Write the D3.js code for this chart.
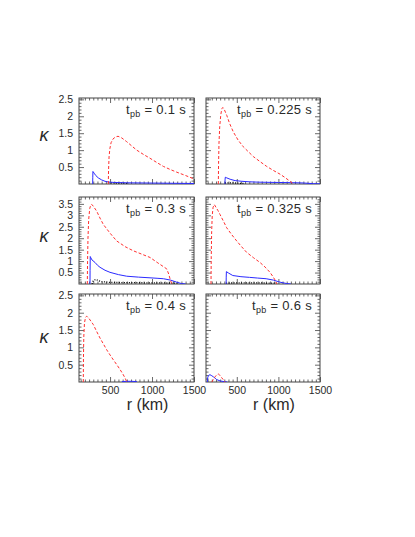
<!DOCTYPE html>
<html><head><meta charset="utf-8">
<script src="https://cdn.jsdelivr.net/npm/d3@7"></script>
<style>
body{margin:0;background:#fff}
svg{display:block}
text{font-family:"Liberation Sans",Arial,Helvetica,sans-serif;fill:#2a2a2a}
</style>
</head><body><div id="chart"></div>
<script>
// ---------- DATA (r in km, kappa) ----------
const timeLabels = ["0.1", "0.225", "0.3", "0.325", "0.4", "0.6"];
const xTicks = [500, 1000, 1500];
const yTicksShort = [0.5, 1, 1.5, 2, 2.5];
const yTicksTall = [0.5, 1, 1.5, 2, 2.5, 3, 3.5];

const red_t010 = [[479,0],[482,0.4],[488,0.8],[498,1.05],[512,1.22],[535,1.33],[565,1.39],[595,1.41],[640,1.36],[698,1.25],[760,1.12],[818,1.0],[900,0.87],[976,0.76],[1060,0.63],[1135,0.52],[1215,0.43],[1294,0.35],[1400,0.25],[1500,0.15]];
const blue_t010 = [[293,0],[294,0.2],[296,0.37],[310,0.32],[330,0.25],[360,0.18],[400,0.12],[440,0.08],[479,0.06],[550,0.045],[700,0.035],[900,0.03],[1100,0.025],[1300,0.02],[1500,0.015]];
const black_t010 = [[480,0.035],[560,0.03],[650,0.025],[720,0.015]];

const red_t0225 = [[278,0],[281,0.6],[286,1.2],[295,1.7],[308,2.05],[320,2.22],[332,2.26],[350,2.2],[379,2.03],[415,1.78],[458,1.54],[515,1.3],[578,1.1],[640,0.95],[699,0.81],[780,0.66],[859,0.52],[940,0.4],[1020,0.29],[1080,0.19],[1140,0.08],[1180,0]];
const blue_t0225 = [[358,0],[359,0.12],[362,0.2],[380,0.18],[420,0.14],[480,0.1],[560,0.08],[650,0.065],[750,0.055],[850,0.05],[1000,0.045],[1150,0.04],[1300,0.03],[1420,0.01],[1500,0.005]];
const black_t0225 = [[358,0.03],[420,0.035],[480,0.03],[540,0.02],[600,0.015]];

const red_t030 = [[229,0],[232,1.0],[237,2.0],[245,2.8],[258,3.3],[270,3.45],[281,3.48],[300,3.4],[341,3.18],[380,2.88],[420,2.6],[500,2.22],[579,1.88],[680,1.63],[777,1.45],[880,1.3],[976,1.16],[1070,0.92],[1175,0.66],[1200,0.42],[1215,0.22],[1235,0]];
const blue_t030 = [[261,0],[262,0.6],[264,1.2],[270,1.15],[285,1.05],[321,0.94],[350,0.82],[380,0.73],[440,0.6],[499,0.51],[600,0.41],[698,0.34],[840,0.3],[976,0.27],[1060,0.25],[1135,0.23],[1220,0.17],[1294,0.08],[1350,0.02],[1400,0]];
const black_t030 = [[285,0],[300,0.15],[330,0.2],[360,0.15],[400,0.1],[500,0.07],[700,0.06],[1000,0.05],[1300,0.04]];

const red_t0325 = [[190,0],[193,1.2],[198,2.3],[205,3.0],[215,3.35],[230,3.47],[250,3.35],[275,3.2],[298,3.04],[340,2.74],[378,2.46],[440,2.15],[499,1.88],[560,1.62],[619,1.38],[700,1.15],[779,0.94],[840,0.74],[899,0.51],[935,0.32],[959,0.18],[980,0]];
const blue_t0325 = [[372,0],[373,0.3],[375,0.54],[400,0.48],[452,0.37],[550,0.32],[653,0.29],[750,0.26],[853,0.23],[940,0.17],[1019,0.08],[1100,0.02],[1150,0]];
const black_t0325 = [[372,0.04],[500,0.05],[700,0.05],[900,0.04],[1000,0.03]];

const red_t040 = [[181,0],[183,0.7],[187,1.3],[195,1.7],[208,1.87],[222,1.9],[250,1.83],[300,1.66],[340,1.46],[380,1.27],[420,1.1],[460,0.93],[500,0.78],[539,0.64],[580,0.5],[619,0.36],[650,0.24],[678,0.12],[700,0]];
const blue_t040 = [[640,0.01],[700,0.02],[760,0.02],[820,0.01]];
const black_t040 = [];

const red_t060 = [[200,0],[220,0.08],[245,0.17],[265,0.22],[278,0.23],[295,0.2],[320,0.12],[340,0.06],[358,0]];
const blue_t060 = [[146,0],[150,0.12],[160,0.19],[178,0.21],[200,0.18],[218,0.15],[240,0.11],[258,0.07],[300,0.03],[350,0.01],[386,0]];
const black_t060 = [];

const redSeries = [red_t010, red_t0225, red_t030, red_t0325, red_t040, red_t060];
const blueSeries = [blue_t010, blue_t0225, blue_t030, blue_t0325, blue_t040, blue_t060];
const blackSeries = [black_t010, black_t0225, black_t030, black_t0325, black_t040, black_t060];

// ---------- LAYOUT ----------
const W = 415, H = 537;
const cols = [[79, 194], [206, 320]];
const rows = [{y0: 98, y1: 184, max: 2.54, ticks: yTicksShort, kY: 140},
              {y0: 197, y1: 284, max: 3.8, ticks: yTicksTall, kY: 241},
              {y0: 294, y1: 382, max: 2.54, ticks: yTicksShort, kY: 342}];
const xDomain = [130, 1500];
const frameColor = "#444";

const svg = d3.select("#chart").append("svg").attr("width", W).attr("height", H);

timeLabels.forEach((lab, i) => {
  const ci = i % 2, ri = Math.floor(i / 2);
  const [x0, x1] = cols[ci];
  const row = rows[ri];
  const x = d3.scaleLinear().domain(xDomain).range([x0, x1]);
  const y = d3.scaleLinear().domain([0, row.max]).range([row.y1, row.y0]);
  const g = svg.append("g");

  const clipId = "clip" + i;
  svg.append("clipPath").attr("id", clipId).append("rect")
    .attr("x", x0).attr("y", row.y0).attr("width", x1 - x0).attr("height", row.y1 - row.y0);

  const xMinor = d3.range(150, 1500, 50).filter(v => !xTicks.includes(v));
  const yMinor = d3.range(0.1, row.max, 0.1).filter(v => Math.abs(v*2 - Math.round(v*2)) > 1e-6);

  const styleAxis = sel => {
    sel.select(".domain").remove();
    sel.selectAll("line").attr("stroke", frameColor).attr("stroke-width", 0.8);
    sel.selectAll("text").attr("font-family", '"Liberation Sans",Arial,sans-serif').attr("font-size", 10.5).attr("fill", "#2a2a2a");
    sel.attr("font-family", null).attr("font-size", null);
  };

  // bottom
  g.append("g").attr("transform", `translate(0,${row.y1})`)
    .call(d3.axisBottom(x).tickValues(xMinor).tickSize(-2.5).tickFormat("")).call(styleAxis);
  g.append("g").attr("transform", `translate(0,${row.y1})`)
    .call(d3.axisBottom(x).tickValues(xTicks).tickSize(-5).tickPadding(5)
      .tickFormat(ri === 2 ? d3.format("d") : "")).call(styleAxis);
  // top
  g.append("g").attr("transform", `translate(0,${row.y0})`)
    .call(d3.axisTop(x).tickValues(xMinor).tickSize(-2.5).tickFormat("")).call(styleAxis);
  g.append("g").attr("transform", `translate(0,${row.y0})`)
    .call(d3.axisTop(x).tickValues(xTicks).tickSize(-5).tickFormat("")).call(styleAxis);
  // left
  g.append("g").attr("transform", `translate(${x0},0)`)
    .call(d3.axisLeft(y).tickValues(yMinor).tickSize(-2.5).tickFormat("")).call(styleAxis);
  g.append("g").attr("transform", `translate(${x0},0)`)
    .call(d3.axisLeft(y).tickValues(row.ticks).tickSize(-5).tickPadding(6)
      .tickFormat(ci === 0 ? (d => String(d)) : "")).call(styleAxis);
  // right
  g.append("g").attr("transform", `translate(${x1},0)`)
    .call(d3.axisRight(y).tickValues(yMinor).tickSize(-2.5).tickFormat("")).call(styleAxis);
  g.append("g").attr("transform", `translate(${x1},0)`)
    .call(d3.axisRight(y).tickValues(row.ticks).tickSize(-5).tickFormat("")).call(styleAxis);

  // frame
  g.append("rect").attr("x", x0).attr("y", row.y0).attr("width", x1 - x0).attr("height", row.y1 - row.y0)
    .attr("fill", "none").attr("stroke", frameColor).attr("stroke-width", 1);

  const line = d3.line().x(d => x(d[0])).y(d => y(d[1]));
  const lines = g.append("g").attr("clip-path", `url(#${clipId})`);
  if (blackSeries[i].length)
    lines.append("path").attr("d", line(blackSeries[i])).attr("fill", "none")
      .attr("stroke", "#000").attr("stroke-width", 1.3).attr("stroke-dasharray", "1,1.5");
  lines.append("path").attr("d", line(blueSeries[i])).attr("fill", "none")
    .attr("stroke", "#2a2aff").attr("stroke-width", 1);
  lines.append("path").attr("d", line(redSeries[i])).attr("fill", "none")
    .attr("stroke", "#ff3030").attr("stroke-width", 1).attr("stroke-dasharray", "3,2");

  // annotation
  const t = g.append("text").attr("x", x1 - 8).attr("y", row.y0 + 16)
    .attr("text-anchor", "end").attr("font-size", 13).attr("letter-spacing", 0.3);
  t.append("tspan").text("t");
  t.append("tspan").attr("font-size", 9).attr("dy", 3).text("pb");
  t.append("tspan").attr("dy", -3).text(" = " + lab + " s");

  // kappa label
  if (ci === 0)
    svg.append("text").attr("x", 44).attr("y", row.kY + 1).attr("text-anchor", "middle")
      .attr("font-size", 18).attr("font-style", "italic").text("κ");
  // x label
  if (ri === 2)
    svg.append("text").attr("x", x0 + 0.596 * (x1 - x0)).attr("y", 410).attr("text-anchor", "middle")
      .attr("font-size", 16).text("r (km)");
});
</script>
</body></html>
